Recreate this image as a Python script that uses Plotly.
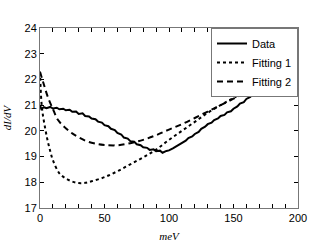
import plotly.graph_objects as go

# Data (measured) curve
data_x = [0, 1, 3, 5, 8, 10, 13, 15, 18, 20, 23, 25, 28, 30, 33, 35, 38, 40, 43, 45, 48, 50,
          53, 55, 58, 60, 63, 65, 68, 70, 73, 75, 78, 80, 83, 85, 88, 90, 93, 95, 98, 100,
          103, 105, 108, 110, 113, 115, 118, 120, 123, 125, 128, 130, 133, 135, 138, 140,
          143, 145, 148, 150, 153, 155, 158, 160, 163, 165, 168, 170, 173, 175, 178, 180]
data_y = [21.00, 20.85, 20.92, 20.88, 20.93, 20.87, 20.90, 20.84, 20.86, 20.80, 20.82, 20.74,
          20.75, 20.66, 20.68, 20.58, 20.56, 20.48, 20.45, 20.36, 20.32, 20.22, 20.18, 20.08,
          20.03, 19.92, 19.86, 19.74, 19.70, 19.60, 19.58, 19.48, 19.44, 19.36, 19.34, 19.26,
          19.28, 19.21, 19.23, 19.15, 19.22, 19.24, 19.32, 19.38, 19.46, 19.55, 19.62, 19.72,
          19.78, 19.88, 19.96, 20.08, 20.16, 20.26, 20.32, 20.42, 20.48, 20.58, 20.62, 20.72,
          20.76, 20.86, 20.95, 21.06, 21.12, 21.24, 21.32, 21.44, 21.52, 21.66, 21.76, 21.88,
          21.98, 22.10]

# Fitting 1 (dotted)
fit1_x = [0, 1, 2, 4, 6, 8, 10, 15, 20, 25, 30, 35, 40, 50, 60, 70, 80, 90, 100, 110,
          120, 130, 140, 150, 160, 170, 180]
fit1_y = [22.3, 21.2, 20.7, 20.1, 19.6, 19.2, 18.86, 18.35, 18.15, 18.03, 17.97, 17.98, 18.04,
          18.2, 18.43, 18.70, 18.97, 19.27, 19.65, 20.0, 20.35, 20.70, 21.0, 21.28, 21.55, 21.82, 22.1]

# Fitting 2 (dashed)
fit2_x = [0, 3, 6, 10, 14, 20, 25, 30, 37, 45, 50, 60, 70, 80, 90, 100, 110, 120, 130, 140,
          150, 160, 170, 180]
fit2_y = [22.3, 21.8, 21.33, 20.85, 20.42, 20.1, 19.9, 19.75, 19.58, 19.48, 19.45, 19.44, 19.52,
          19.65, 19.83, 20.05, 20.26, 20.5, 20.75, 21.0, 21.25, 21.5, 21.78, 22.1]

x_ticks = [0, 50, 100, 150, 200]
y_ticks = [17, 18, 19, 20, 21, 22, 23, 24]

fig = go.Figure()
fig.add_trace(go.Scatter(x=data_x, y=data_y, mode="lines", name="Data",
                         line=dict(color="black", width=2)))
fig.add_trace(go.Scatter(x=fit1_x, y=fit1_y, mode="lines", name="Fitting 1", line_shape="spline",
                         line=dict(color="black", width=2, dash="dot")))
fig.add_trace(go.Scatter(x=fit2_x, y=fit2_y, mode="lines", name="Fitting 2", line_shape="spline",
                         line=dict(color="black", width=2, dash="6px,4px")))

axis_common = dict(showgrid=False, zeroline=False, showline=True, linecolor="#777777",
                   linewidth=1, mirror="ticks", ticks="inside", ticklen=4,
                   tickcolor="black", tickwidth=1, automargin=False,
                   tickfont=dict(family="Liberation Sans", size=11, color="black"))

fig.update_xaxes(range=[0, 200], tickvals=x_ticks,
                 minor=dict(dtick=10, ticks="inside", ticklen=4, tickcolor="black"),
                 title=dict(text="<i>meV</i>", font=dict(family="Liberation Serif", size=11, color="black"),
                            standoff=9),
                 **axis_common)
fig.update_yaxes(range=[17, 24], tickvals=y_ticks,
                 title=dict(text="<i>dI/dV</i>", font=dict(family="Liberation Serif", size=11, color="black"),
                            standoff=10),
                 **axis_common)

fig.update_layout(
    width=314, height=249,
    margin=dict(l=40, r=16, t=28, b=41),
    paper_bgcolor="white", plot_bgcolor="white",
    font=dict(family="Liberation Sans", size=11, color="black"),
    showlegend=True,
    legend=dict(x=1, xanchor="right", y=1, yanchor="top", bgcolor="white",
                bordercolor="#777777", borderwidth=1, font=dict(size=11),
                tracegroupgap=0, itemwidth=30),
)

fig.write_html("out.html", post_script="document.body.style.margin='0';",
               config={"displayModeBar": False})
